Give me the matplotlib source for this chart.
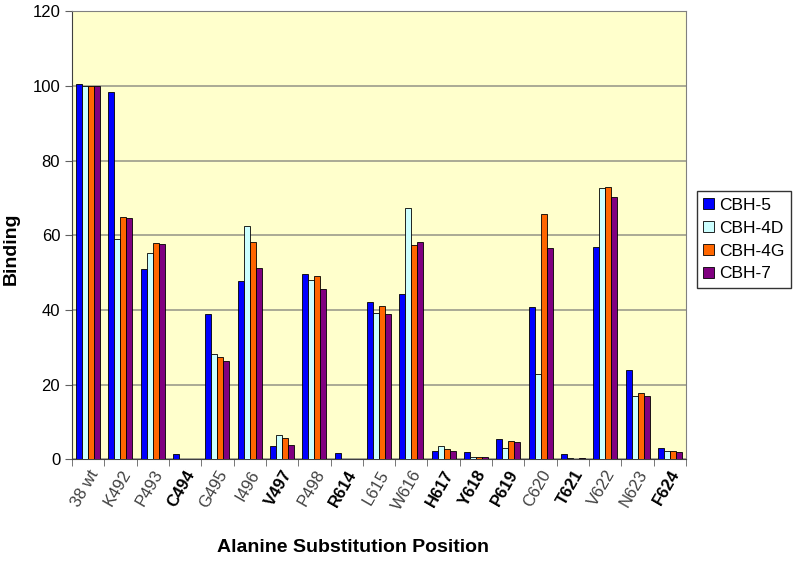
import matplotlib.pyplot as plt
import numpy as np

positions = ['38 wt', 'K492', 'P493', 'C494', 'G495', 'I496', 'V497', 'P498', 'R614',
             'L615', 'W616', 'H617', 'Y618', 'P619', 'C620', 'T621', 'V622', 'N623', 'F624']
bold_labels = ['C494', 'V497', 'R614', 'H617', 'Y618', 'P619', 'T621', 'F624']

cbh5 = [100.5, 98.3, 50.9, 1.3, 38.8, 47.8, 3.6, 49.5, 1.7, 42.0, 44.2, 2.1, 1.8, 5.5, 40.8, 1.5, 56.8, 23.9, 2.9]
cbh4d = [100, 58.9, 55.1, 0, 28.1, 62.4, 6.6, 48.0, 0, 39.2, 67.2, 3.6, 0.5, 3.0, 22.7, 0.3, 72.6, 16.8, 2.3]
cbh4g = [100, 65.0, 57.9, 0, 27.3, 58.1, 5.8, 49.0, 0, 40.9, 57.5, 2.8, 0.7, 4.8, 65.6, 0.1, 72.9, 17.6, 2.3]
cbh7 = [100, 64.6, 57.6, 0, 26.2, 51.1, 3.7, 45.5, 0, 39.0, 58.1, 2.3, 0.7, 4.5, 56.6, 0.3, 70.2, 16.8, 1.8]

series = [('CBH-5', cbh5, '#0000FF'),
          ('CBH-4D', cbh4d, '#CCFFFF'),
          ('CBH-4G', cbh4g, '#FF6600'),
          ('CBH-7', cbh7, '#800080')]

plt.rcParams['font.family'] = ['Liberation Sans', 'DejaVu Sans']

fig = plt.figure(figsize=(8, 5.62), dpi=100)
ax = fig.add_axes([0.09, 0.183, 0.7675, 0.797])
ax.set_facecolor('#FFFFCC')

x = np.arange(len(positions))
w = 0.186
for i, (name, vals, col) in enumerate(series):
    ax.bar(x + (i - 1.5) * w, vals, width=w, color=col, edgecolor='black',
           linewidth=0.6, label=name, zorder=3)

ax.set_xlim(-0.5, len(positions) - 0.5)
ax.set_ylim(0, 120)
ax.set_yticks(range(0, 121, 20))
ax.yaxis.grid(True, color='#9C9C8C', linewidth=1.2, zorder=0)
ax.tick_params(axis='y', labelsize=12, length=5, color='#606060')

ax.set_xticks(x)
ax.set_xticklabels(positions, rotation=60, ha='right', rotation_mode='anchor', fontsize=12)
for lab in ax.get_xticklabels():
    if lab.get_text() in bold_labels:
        lab.set_fontweight('bold')
        lab.set_color('black')
    else:
        lab.set_color('#404040')
ax.tick_params(axis='x', length=0, pad=6)
ax.set_xticks(np.arange(-0.5, len(positions), 1), minor=True)
ax.tick_params(axis='x', which='minor', length=5, color='#606060')

for s in ax.spines.values():
    s.set_color('#808080')
ax.spines['left'].set_color('#404040')
ax.spines['bottom'].set_color('#404040')

ax.set_ylabel('Binding', fontsize=14, fontweight='bold')
ax.yaxis.set_label_coords(-0.085, 0.47)
ax.set_xlabel('Alanine Substitution Position', fontsize=14, fontweight='bold')
ax.xaxis.set_label_coords(0.458, -0.178)

leg = ax.legend(loc='center left', bbox_to_anchor=(1.003, 0.49), fontsize=12.5,
                frameon=True, fancybox=False, handlelength=0.6, handleheight=0.6,
                handletextpad=0.3, borderpad=0.4, labelspacing=0.45)
leg.get_frame().set_edgecolor('black')
leg.get_frame().set_linewidth(1)

fig.savefig('out.png', dpi=100)
